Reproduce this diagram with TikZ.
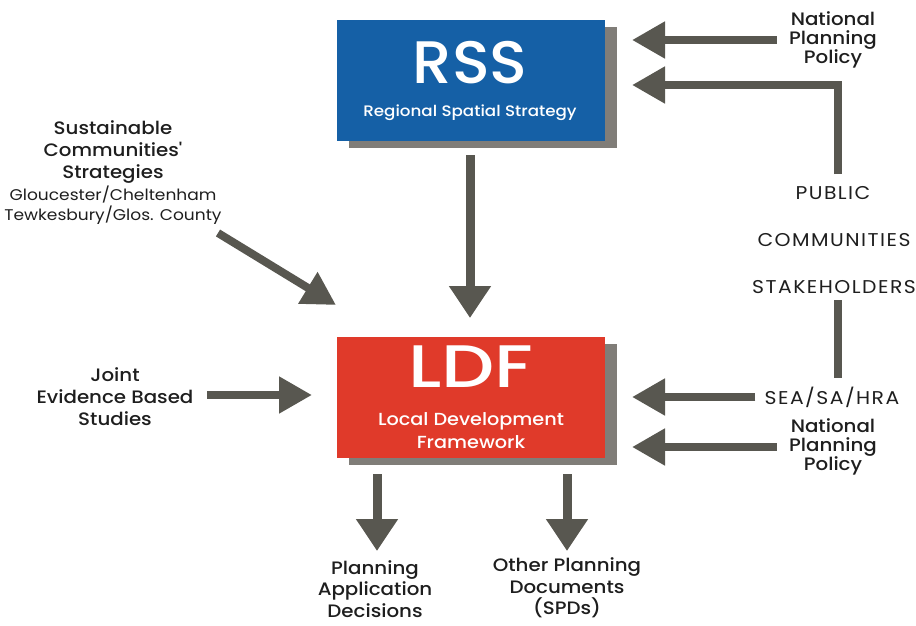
\documentclass[tikz,border=0pt]{standalone}
\usepackage{fontspec}
\setmainfont{Poppins}
\newfontfamily\labfont{Poppins Medium}[FakeStretch=1.1]
\newfontfamily\titlefont{Poppins Medium}
\newfontfamily\lightfont{Poppins}[FakeStretch=1.1]
\newfontfamily\capfont{Poppins}[FakeStretch=1.1, LetterSpace=8]
\usetikzlibrary{arrows.meta,shadows}

\definecolor{rssblue}{RGB}{21,96,166}
\definecolor{ldfred}{RGB}{224,58,42}
\definecolor{boxshadow}{RGB}{128,125,120}
\definecolor{arrowgray}{RGB}{88,87,80}
\definecolor{textdark}{RGB}{30,30,30}

\tikzset{
  mainbox/.style={minimum width=268pt, minimum height=121pt, inner sep=0pt,
    drop shadow={shadow xshift=12pt, shadow yshift=-7pt, fill=boxshadow, opacity=1}},
  boxtitle/.style={text=white, inner sep=0pt, font=\titlefont\fontsize{60}{60}\selectfont},
  boxsub/.style={text=white, inner sep=0pt, align=center, font=\labfont\fontsize{15.2}{23}\selectfont},
  arr/.style={draw=arrowgray, line width=8pt, -{Triangle[width=35pt,length=33pt]}},
  downarr/.style={draw=arrowgray, line width=9pt, -{Triangle[width=40pt,length=32pt]}},
  shaft/.style={draw=arrowgray, line width=8pt},
  lab/.style={align=center, text=textdark, inner sep=0pt,
    font=\labfont\fontsize{18}{19}\selectfont},
  biglab/.style={align=center, text=textdark, inner sep=0pt,
    font=\labfont\fontsize{18}{22}\selectfont},
  caplab/.style={align=center, text=textdark, inner sep=0pt,
    font=\capfont\fontsize{18.5}{19}\selectfont},
}

\begin{document}
\begin{tikzpicture}[x=1pt,y=-1pt]
  \useasboundingbox (0,0) rectangle (916,625);

  % central boxes
  \node[mainbox, fill=rssblue] (rss) at (470.5,80.5) {};
  \node[boxtitle] (rsstitle) at (470,63) {\scalebox{1.04}[1]{RSS}};
  \node[boxsub] (rsssub) at (470,113) {Regional Spatial Strategy};

  \node[mainbox, fill=ldfred] (ldf) at (471,397) {};
  \node[boxtitle] (ldftitle) at (471,367) {\scalebox{1.25}[1]{LDF}};
  \node[boxsub, font=\labfont\fontsize{17.5}{23}\selectfont] (ldfsub) at (471,431)
    {Local Development\\Framework};

  % right-hand inputs
  \node[lab] (npptop) at (833,40) {National\\Planning\\Policy};
  \node[caplab] (public) at (833,193) {PUBLIC};
  \node[caplab] (communities) at (834,240) {COMMUNITIES};
  \node[caplab] (stakeholders) at (834,287) {STAKEHOLDERS};
  \node[caplab] (sea) at (832,397) {SEA/SA/HRA};
  \node[lab] (nppbot) at (833,447) {National\\Planning\\Policy};

  % left-hand inputs
  \node[biglab] (scs) at (113,173)
    {Sustainable\\Communities'\\Strategies\\
     {\lightfont\fontsize{15.5}{20}\selectfont Gloucester/Cheltenham}\\[-2pt]
     {\lightfont\fontsize{15.5}{20}\selectfont Tewkesbury/Glos. County}};
  \node[biglab] (jebs) at (115,397) {Joint\\Evidence Based\\Studies};

  % outputs
  \node[biglab, font=\labfont\fontsize{18}{21.5}\selectfont] (pad) at (375,589)
    {Planning\\Application\\Decisions};
  \node[biglab, font=\labfont\fontsize{18}{21.5}\selectfont] (opd) at (567,588)
    {Other Planning\\Documents\\(SPDs)};

  % arrow end points
  \coordinate (rssin1) at (632,40);
  \coordinate (rssin2) at (632,85);
  \coordinate (turn) at (838,85);
  \coordinate (pubtop) at (838,174);
  \coordinate (stkfoot) at (838,300);
  \coordinate (seatop) at (838,378);
  \coordinate (ldfin1) at (632,397);
  \coordinate (ldfin2) at (632,447);
  \coordinate (jebsout) at (207,395);
  \coordinate (ldfin3) at (312,395);
  \coordinate (scsout) at (218,233);
  \coordinate (ldfin4) at (336,305);
  \coordinate (rssout) at (470,155);
  \coordinate (ldftop) at (470,318);
  \coordinate (out1) at (377,474);
  \coordinate (padtop) at (377,551);
  \coordinate (out2) at (567,474);
  \coordinate (opdtop) at (567,551);

  % connectors
  \draw[arr] ([xshift=-12pt]npptop.west) -- (rssin1);
  \draw[arr] (pubtop) -- (turn) -- (rssin2);
  \draw[shaft] (stkfoot) -- (seatop);
  \draw[arr] ([xshift=-9pt]sea.west) -- (ldfin1);
  \draw[arr] ([xshift=-12pt]nppbot.west) -- (ldfin2);
  \draw[downarr] (rssout) -- (ldftop);
  \draw[arr] (jebsout) -- (ldfin3);
  \draw[arr] (scsout) -- (ldfin4);
  \draw[downarr] (out1) -- (padtop);
  \draw[downarr] (out2) -- (opdtop);
\end{tikzpicture}
\end{document}
